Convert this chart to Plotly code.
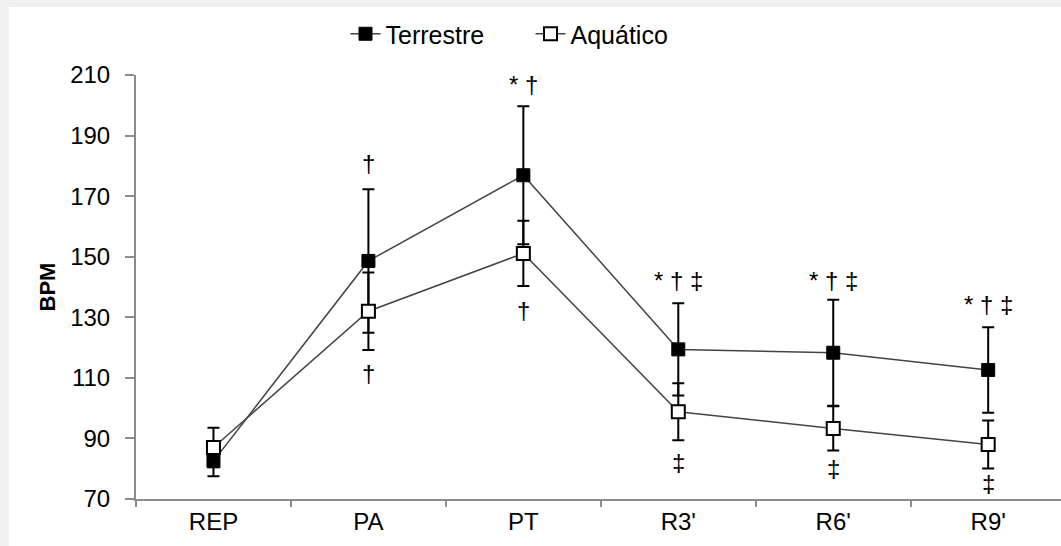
import plotly.graph_objects as go

categories = ["REP", "PA", "PT", "R3'", "R6'", "R9'"]
terrestre_mean = [82.5, 148.6, 176.9, 119.4, 118.3, 112.6]
terrestre_sd = [5.0, 23.7, 22.8, 15.2, 17.5, 14.1]
aquatico_mean = [87.0, 132.0, 151.1, 98.8, 93.3, 88.0]
aquatico_sd = [6.5, 12.8, 10.8, 9.4, 7.3, 7.9]

sig_top_text = ["", "†", "* †", "* † ‡", "* † ‡", "* † ‡"]
sig_top_y = [None, 180.9, 207.0, 142.3, 142.3, 134.3]
sig_bot_text = ["", "†", "†", "‡", "‡", "‡"]
sig_bot_y = [None, 111.6, 132.4, 82.2, 80.2, 75.0]

FONT = "Liberation Sans, Arial, sans-serif"

fig = go.Figure()
fig.add_trace(go.Scatter(
    x=categories, y=terrestre_mean, name="Terrestre", mode="lines+markers",
    line=dict(color="#444444", width=1.5),
    marker=dict(symbol="square", size=13, color="black", line=dict(color="black", width=1)),
    error_y=dict(type="data", array=terrestre_sd, visible=True, color="black", thickness=2, width=6),
))
fig.add_trace(go.Scatter(
    x=categories, y=aquatico_mean, name="Aquático", mode="lines+markers",
    line=dict(color="#444444", width=1.5),
    marker=dict(symbol="square", size=13, color="white", line=dict(color="black", width=2)),
    error_y=dict(type="data", array=aquatico_sd, visible=True, color="black", thickness=2, width=6),
))

annotations = []
for c, t, y in zip(categories, sig_top_text, sig_top_y):
    if t:
        annotations.append(dict(x=c, y=y, text=t, showarrow=False, xref="x", yref="y",
                                font=dict(size=24, color="black", family=FONT), yanchor="middle"))
for c, t, y in zip(categories, sig_bot_text, sig_bot_y):
    if t:
        annotations.append(dict(x=c, y=y, text=t, showarrow=False, xref="x", yref="y",
                                font=dict(size=24, color="black", family=FONT), yanchor="middle"))

# plot area: x px 136..1061, y px 75..499
def px_x(p):
    return (p - 136) / 925.0
def px_y(p):
    return (499 - p) / 424.0

shapes = [
    dict(type="rect", xref="paper", yref="paper", x0=px_x(0), x1=px_x(1061), y0=px_y(7), y1=px_y(0),
         fillcolor="#efefef", line=dict(width=0), layer="below"),
    dict(type="rect", xref="paper", yref="paper", x0=px_x(0), x1=px_x(9), y0=px_y(546), y1=px_y(0),
         fillcolor="#efefef", line=dict(width=0), layer="below"),
]

fig.update_layout(
    width=1061, height=546,
    margin=dict(l=136, r=0, t=75, b=47, autoexpand=False),
    paper_bgcolor="white", plot_bgcolor="white",
    font=dict(family=FONT, color="black", size=24),
    showlegend=True,
    legend=dict(orientation="h", xref="container", yref="container", x=0.5, xanchor="center",
                y=1 - 34 / 546, yanchor="middle", font=dict(size=25, family=FONT),
                entrywidth=140, tracegroupgap=0, bgcolor="rgba(0,0,0,0)"),
    annotations=annotations,
    shapes=shapes,
    xaxis=dict(type="category", range=[-0.5, 5.47], showline=True, linecolor="#8c8c8c", linewidth=2,
               ticks="outside", tickson="boundaries", ticklen=6, tickcolor="#8c8c8c", tickwidth=2,
               showgrid=False, zeroline=False, tickfont=dict(size=24, family=FONT), automargin=False),
    yaxis=dict(range=[70, 210], dtick=20, tick0=70, showline=True, linecolor="#8c8c8c", linewidth=2,
               ticks="outside", ticklen=9, tickcolor="#8c8c8c", tickwidth=2, showgrid=False,
               zeroline=False, tickfont=dict(size=24, family=FONT), ticklabelstandoff=10,
               automargin=False,
               title=dict(text="<b>BPM</b>", font=dict(size=22, family=FONT), standoff=8)),
)

fig.write_html("out.html", config={"displayModeBar": False},
               post_script="document.body.style.margin='0';document.body.style.padding='0';")
